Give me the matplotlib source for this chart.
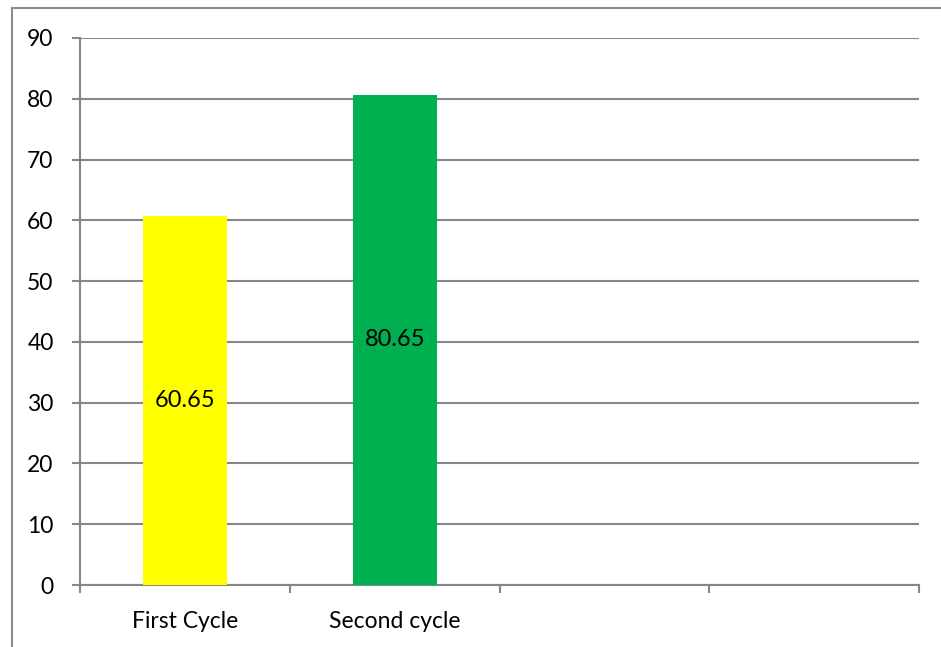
import matplotlib
matplotlib.use("Agg")
import matplotlib.pyplot as plt
from matplotlib.lines import Line2D
import numpy as np

categories = ["First Cycle", "Second cycle", "", ""]
values = [60.65, 80.65]
bar_colors = ["#FFFF00", "#00B050"]
y_ticks = [0, 10, 20, 30, 40, 50, 60, 70, 80, 90]

plt.rcParams["font.family"] = ["Lato", "DejaVu Sans"]
grey = "#878787"
fs = 16.5

fig = plt.figure(figsize=(9.41, 6.47), dpi=100)
ax = fig.add_axes([80 / 941, 62 / 647, 839 / 941, 547 / 647])

x = np.arange(len(values))
ax.bar(x, values, width=0.4, color=bar_colors, zorder=3)
for xi, v in zip(x, values):
    ax.text(xi, v / 2, f"{v:.2f}", ha="center", va="center", fontsize=17,
            color="black", zorder=4)

ax.set_xlim(-0.5, len(categories) - 0.5)
ax.set_ylim(0, 90)
ax.set_yticks(y_ticks)
ax.set_yticklabels([str(t) for t in y_ticks], fontsize=fs)
ax.yaxis.grid(True, color=grey, linewidth=1.5, zorder=0)
ax.set_axisbelow(True)

# category boundaries carry the tick marks, labels sit between them
ax.set_xticks(np.arange(len(categories) + 1) - 0.5)
ax.set_xticklabels([])
ax.set_xticks(np.arange(len(categories)), minor=True)
ax.set_xticklabels(categories, minor=True, fontsize=fs)
ax.tick_params(axis="x", which="minor", length=0, pad=19)
ax.tick_params(axis="x", which="major", length=6, width=1.5, color=grey)
ax.tick_params(axis="y", length=6, width=1.5, color=grey, pad=13)

for side in ["top", "right"]:
    ax.spines[side].set_visible(False)
for side in ["left", "bottom"]:
    ax.spines[side].set_color(grey)
    ax.spines[side].set_linewidth(1.5)

# chart area frame
fig.add_artist(Line2D([11.5 / 941, 11.5 / 941], [0, 1 - 8 / 647],
                      transform=fig.transFigure, color="#8c8c8c", linewidth=1.5))
fig.add_artist(Line2D([11.5 / 941, 1], [1 - 8 / 647, 1 - 8 / 647],
                      transform=fig.transFigure, color="#8c8c8c", linewidth=1.5))

fig.savefig("out.png", dpi=100)
